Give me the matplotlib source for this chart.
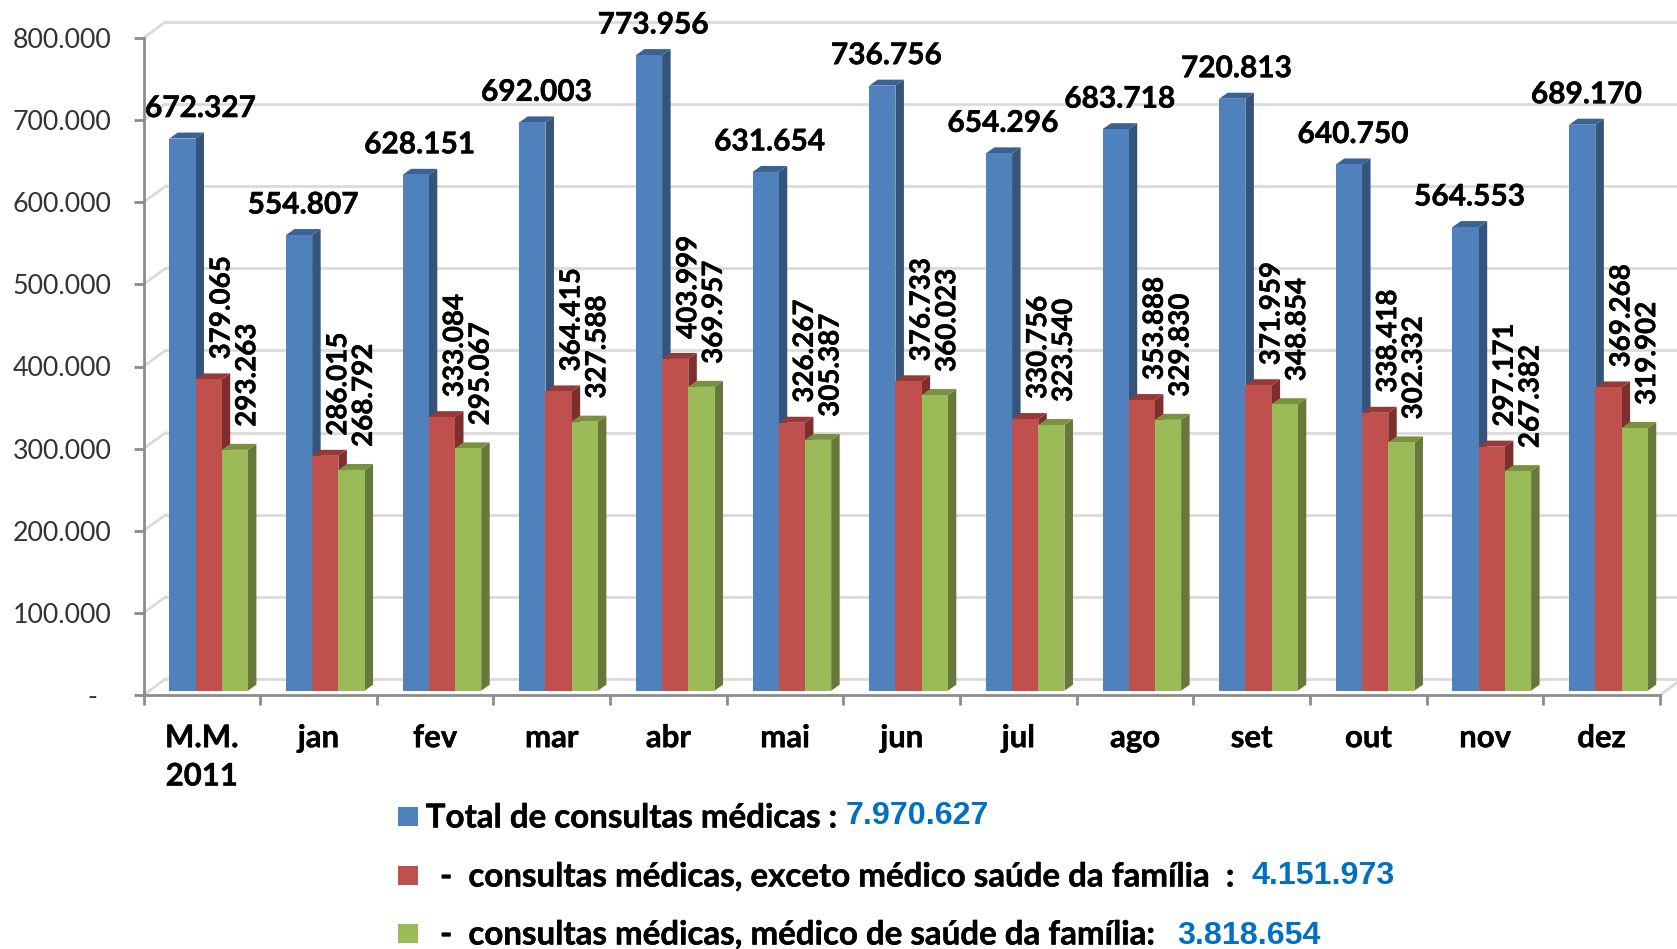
import matplotlib
matplotlib.use('Agg')
import matplotlib.pyplot as plt
import matplotlib.patheffects as pe
from matplotlib.patches import Polygon, Rectangle

W, H = 1677, 949

categories = ['M.M.\n2011', 'jan', 'fev', 'mar', 'abr', 'mai', 'jun', 'jul', 'ago', 'set', 'out', 'nov', 'dez']
total = [672327, 554807, 628151, 692003, 773956, 631654, 736756, 654296, 683718, 720813, 640750, 564553, 689170]
exceto = [379065, 286015, 333084, 364415, 403999, 326267, 376733, 330756, 353888, 371959, 338418, 297171, 369268]
familia = [293263, 268792, 295067, 327588, 369957, 305387, 360023, 323540, 329830, 348854, 302332, 267382, 319902]
y_ticks = [0, 100000, 200000, 300000, 400000, 500000, 600000, 700000, 800000]
y_labels = ['-  ', '100.000', '200.000', '300.000', '400.000', '500.000', '600.000', '700.000', '800.000']

legend_names = ['Total de consultas médicas :',
                '-  consultas médicas, exceto médico saúde da família  :',
                '-  consultas médicas, médico de saúde da família:']
legend_totals = ['7.970.627', '4.151.973', '3.818.654']

front = ['#4F81BD', '#C0504D', '#9BBB59']
side = ['#34547C', '#7E2F2D', '#66783A']
top = ['#3B6294', '#963A38', '#7A9240']
GRID = '#DADADA'
AXIS = '#8C8C8C'
FONT = 'Lato'
HEAVY = [pe.withStroke(linewidth=0.3, foreground='black')]


def fmt(v):
  return f'{v // 1000}.{v % 1000:03d}'


def fx(px):
  return px / W


def fy(px):
  return 1 - px / H


fig = plt.figure(figsize=(W / 100, H / 100), dpi=100, facecolor='white')
ax = fig.add_axes([fx(143.5), fy(695), (1660 - 143.5) / W, (695 - 38) / H])
ax.set_xlim(0, 13)
ax.set_ylim(0, 800000)
ax.patch.set_alpha(0)

px_x = 13 / (1660 - 143.5)  # data units per pixel
px_y = 800000 / (695 - 38)

# back wall and side wall
wall_dx, wall_dy = 22 * px_x, 16 * px_y
for v in y_ticks:
  ax.plot([wall_dx, 13 + 2], [v + wall_dy, v + wall_dy], color=GRID, lw=2, clip_on=False, zorder=1)
  ax.plot([0, wall_dx], [v, v + wall_dy], color=GRID, lw=2, clip_on=False, zorder=1)
ax.plot([13, 13 + wall_dx], [0, wall_dy], color=GRID, lw=2, clip_on=False, zorder=1)

# bars
base = 4.3 * px_y
start = 25.8 * px_x
bw = 26.2 * px_x
dx, dy = 8.5 * px_x, 6 * px_y
series = [total, exceto, familia]
z = 3
for s, vals in enumerate(series):
  for i, v in enumerate(vals):
    x0 = i + start + s * bw
    x1 = x0 + bw
    y1 = base + v
    ax.bar(x0, v, bw, bottom=base, align='edge', color=front[s], linewidth=0, zorder=z + 2)
    ax.add_patch(Polygon([(x1, base), (x1 + dx, base + dy), (x1 + dx, y1 + dy), (x1, y1)],
                         closed=True, facecolor=side[s], edgecolor='none', zorder=z))
    ax.add_patch(Polygon([(x0, y1), (x0 + dx, y1 + dy), (x1 + dx, y1 + dy), (x1, y1)],
                         closed=True, facecolor=top[s], edgecolor='none', zorder=z))
  z += 3

# value labels
for i, v in enumerate(total):
  off = 18 if i == 0 else 4
  ax.annotate(fmt(v), (i + start + bw / 2, base + v), xytext=(off * 0.72, 30.5 * 0.72), textcoords='offset points',
              ha='center', va='center', fontsize=21.5, fontweight='bold', family=FONT, color='black',
              annotation_clip=False, zorder=20, path_effects=HEAVY)
for s, vals, shift, gap in [(1, exceto, 13, 20), (2, familia, 12.5, 23)]:
  for i, v in enumerate(vals):
    ax.annotate(fmt(v), (i + start + s * bw + bw / 2, base + v), xytext=(shift * 0.72, gap * 0.72),
                textcoords='offset points', ha='center', va='bottom', rotation=90, fontsize=20,
                fontweight='bold', family=FONT, color='black', zorder=20, path_effects=HEAVY)

# axes
for name in ['top', 'right']:
  ax.spines[name].set_visible(False)
for name in ['left', 'bottom']:
  ax.spines[name].set_color(AXIS)
  ax.spines[name].set_linewidth(2)
  ax.spines[name].set_zorder(2)
ax.set_yticks(y_ticks)
ax.set_yticklabels(y_labels, fontsize=19.3, family=FONT, color='#333333')
ax.tick_params(axis='y', length=7, width=2, color=AXIS, pad=16)
ax.set_xticks(range(14))
ax.set_xticklabels([])
ax.tick_params(axis='x', length=7, width=2, color=AXIS)
for i, c in enumerate(categories):
  ax.annotate(c, (i + 0.5, 0), xytext=(0, -21), textcoords='offset points', ha='center', va='top',
              fontsize=22.4, fontweight='bold', family=FONT, color='black', linespacing=1.45,
              annotation_clip=False, path_effects=HEAVY)

# legend
legend_y = [818, 877, 935]
total_y = [816, 876.5, 935.5]
name_x = [425.7, 440, 440]
total_x = [846, 1251, 1177.5]
for s in range(3):
  fig.patches.append(Rectangle((fx(397.5), fy(legend_y[s] - 2 + 9.5)), 20 / W, 19 / H, transform=fig.transFigure,
                               facecolor=front[s], edgecolor='none'))
  fig.text(fx(name_x[s]), fy(legend_y[s]), legend_names[s], ha='left', va='center', fontsize=23.8,
           fontweight='bold', family=FONT, color='black', path_effects=HEAVY)
  fig.text(fx(total_x[s]), fy(total_y[s]), legend_totals[s], ha='left', va='center', fontsize=23.2,
           fontweight='bold', family='Liberation Sans', color='#0070C0')

fig.savefig('out.png', dpi=100)
